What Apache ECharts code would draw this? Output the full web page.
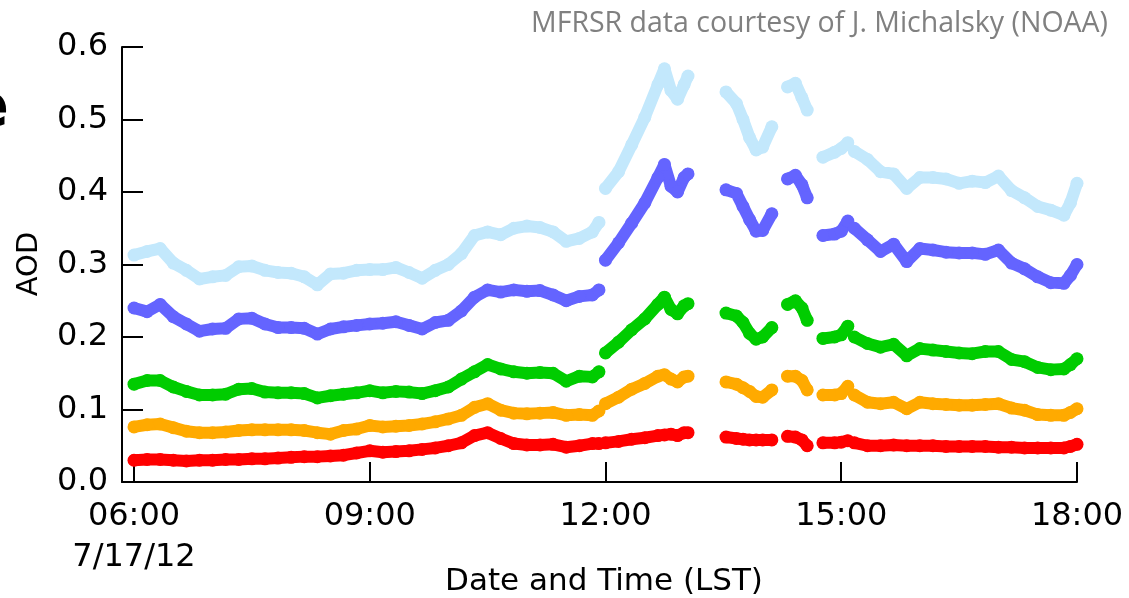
<!DOCTYPE html>
<html>
  <head>
    <meta charset="utf-8">
    <script src="https://cdn.jsdelivr.net/npm/echarts@6/dist/echarts.min.js"></script>
  </head>
  <body style="margin:0">
    <div id="main" style="width: 1129px;height:598px;"></div>
    <script type="text/javascript">
      // sample times (LST), null entries in the series mark gaps in the record
      var times = [
        '06:00','06:10','06:20','06:30','06:40','06:50','07:00','07:10','07:20','07:30',
        '07:40','07:50','08:00','08:10','08:20','08:30','08:40','08:50','09:00',
        '09:10','09:20','09:30','09:40','09:50','10:00','10:10','10:20','10:30','10:40',
        '10:50','11:00','11:10','11:20','11:30','11:40','11:50',
        '11:55','11:58',
        '12:00','12:10','12:20','12:30','12:40','12:45','12:50','12:55','13:00','13:03',
        '13:15',
        '13:32','13:40','13:45','13:50','13:55','14:00','14:07',
        '14:12',
        '14:19','14:25','14:30','14:34',
        '14:40',
        '14:46','14:55','15:00','15:05',
        '15:07',
        '15:10','15:20','15:30','15:40','15:50','16:00','16:10','16:20','16:30','16:40',
        '16:50','17:00','17:10','17:20','17:30','17:40','17:50','17:55','18:00'
      ];

      var aod1 = [ // light blue
        .313,.318,.322,.302,.292,.280,.283,.285,.297,.298,.292,.289,.288,.283,.272,.287,.288,.292,.293,
        .293,.296,.289,.281,.292,.300,.315,.340,.345,.341,.350,.353,.351,.345,.332,.336,.345,
        .358, null,
        .405,.428,.465,.503,.548,.570,.540,.528,.548,.560,
        null,
        .538,.522,.500,.475,.458,.462,.490,
        null,
        .545,.550,.530,.513,
        null,
        .448,.455,.460,.468,
        null,
        .456,.445,.428,.425,.405,.420,.420,.418,.412,.415,.413,.422,.402,.392,.380,.375,.368,.385,.412
      ];
      var aod2 = [ // blue
        .240,.235,.245,.228,.218,.208,.211,.212,.225,.226,.218,.213,.213,.212,.204,.211,.214,.216,.218,
        .219,.221,.216,.211,.220,.223,.236,.255,.265,.262,.265,.263,.264,.258,.250,.256,.258,
        .265, null,
        .306,.330,.357,.385,.420,.438,.408,.400,.420,.425,
        null,
        .403,.398,.380,.362,.346,.347,.370,
        null,
        .418,.423,.410,.392,
        null,
        .340,.342,.346,.360,
        null,
        .350,.334,.318,.328,.304,.322,.320,.317,.316,.316,.314,.320,.302,.294,.283,.275,.274,.285,.300
      ];
      var aod3 = [ // green
        .135,.140,.140,.131,.125,.120,.120,.121,.128,.129,.124,.123,.123,.122,.116,.119,.121,.123,.126,
        .123,.125,.124,.122,.126,.131,.142,.152,.162,.156,.152,.150,.151,.150,.139,.146,.145,
        .152, null,
        .178,.193,.210,.225,.245,.255,.238,.232,.243,.246,
        null,
        .233,.229,.220,.205,.197,.200,.213,
        null,
        .245,.250,.240,.223,
        null,
        .198,.200,.203,.215,
        null,
        .200,.191,.186,.190,.174,.184,.182,.180,.178,.177,.180,.180,.169,.166,.158,.155,.156,.162,.170
      ];
      var aod4 = [ // orange
        .076,.079,.080,.075,.070,.068,.068,.069,.071,.072,.072,.072,.072,.071,.068,.066,.071,.073,.078,
        .076,.077,.078,.080,.083,.087,.092,.103,.108,.099,.095,.094,.095,.096,.092,.093,.092,
        .098, null,
        .108,.117,.128,.136,.146,.148,.142,.138,.145,.146,
        null,
        .138,.135,.130,.125,.118,.117,.127,
        null,
        .146,.146,.140,.127,
        null,
        .120,.120,.122,.132,
        null,
        .120,.110,.108,.110,.101,.110,.108,.107,.106,.106,.107,.108,.102,.099,.093,.092,.092,.096,.101
      ];
      var aod5 = [ // red
        .030,.031,.031,.030,.029,.030,.030,.031,.031,.032,.032,.033,.034,.035,.035,.036,.037,.040,.043,
        .041,.042,.043,.045,.047,.050,.054,.064,.068,.060,.053,.051,.051,.052,.048,.050,.053,
        .053, null,
        .054,.056,.059,.061,.064,.065,.066,.064,.068,.068,
        null,
        .062,.060,.059,.058,.058,.058,.058,
        null,
        .063,.062,.058,.050,
        null,
        .054,.054,.055,.057,
        null,
        .054,.050,.050,.051,.050,.050,.050,.049,.049,.049,.049,.048,.048,.047,.047,.047,.047,.049,.052
      ];

      var colors = ['#c3e8fc', '#6464ff', '#00cc00', '#ffaa00', '#ff0000'];
      var xTicks = [6, 9, 12, 15, 18];
      var yTicks = [0, 0.1, 0.2, 0.3, 0.4, 0.5, 0.6];

      function toHours(s) {
        var p = s.split(':');
        return +p[0] + (+p[1]) / 60;
      }
      function pairs(vals) {
        return times.map(function (t, i) {
          return [toHours(t), vals[i] == null ? '-' : vals[i]];
        });
      }
      function pad(h) {
        return (h < 10 ? '0' : '') + h + ':00';
      }

      var myChart = echarts.init(document.getElementById('main'));
      var font = 'DejaVu Sans';

      var series = [aod1, aod2, aod3, aod4, aod5].map(function (vals, i) {
        return {
          type: 'line',
          data: pairs(vals),
          connectNulls: false,
          symbol: 'circle',
          symbolSize: 13,
          showSymbol: true,
          showAllSymbol: true,
          itemStyle: { color: colors[i] },
          lineStyle: { color: colors[i], width: 12, cap: 'round', join: 'round' },
          emphasis: { disabled: true }
        };
      });

      var option = {
        animation: false,
        backgroundColor: '#fff',
        grid: { left: 122, right: 52, top: 47, bottom: 116 },
        xAxis: {
          type: 'value',
          min: 6 - 12 / 78.6,
          max: 18,
          splitLine: { show: false },
          axisLine: { lineStyle: { color: '#000', width: 2 } },
          axisTick: {
            inside: true, length: 20, customValues: xTicks,
            lineStyle: { color: '#000', width: 2 }
          },
          axisLabel: {
            customValues: xTicks,
            margin: 14,
            fontFamily: font,
            fontSize: 32,
            lineHeight: 41,
            color: '#000',
            formatter: function (v) {
              return v === 6 ? pad(v) + '\n7/17/12' : pad(v);
            }
          }
        },
        yAxis: {
          type: 'value',
          min: 0,
          max: 0.6,
          splitLine: { show: false },
          axisLine: { show: true, lineStyle: { color: '#000', width: 2 } },
          axisTick: {
            show: true, inside: true, length: 21, customValues: yTicks,
            lineStyle: { color: '#000', width: 2 }
          },
          axisLabel: {
            customValues: yTicks,
            margin: 14,
            fontFamily: font,
            fontSize: 32,
            color: '#000',
            formatter: function (v) { return v.toFixed(1); }
          }
        },
        graphic: [
          {
            type: 'text', x: 29, y: 264, rotation: Math.PI / 2,
            style: { text: 'AOD', fontFamily: font, fontSize: 29, fill: '#000', align: 'center', verticalAlign: 'middle' }
          },
          {
            type: 'text', x: 604, y: 582,
            style: { text: 'Date and Time (LST)', fontFamily: font, fontSize: 31, fill: '#000', align: 'center', verticalAlign: 'middle' }
          },
          {
            type: 'text', x: 1108, y: 24,
            style: { text: 'MFRSR data courtesy of J. Michalsky (NOAA)', fontFamily: 'Open Sans', fontSize: 28.5, fill: '#808080', align: 'right', verticalAlign: 'middle' }
          },
          {
            type: 'text', x: 9, y: 110,
            style: { text: 'e', fontFamily: font, fontWeight: 'bold', fontSize: 60, fill: '#000', align: 'right', verticalAlign: 'middle' }
          }
        ],
        series: series
      };
      myChart.setOption(option);
    </script>
  </body>
</html>
